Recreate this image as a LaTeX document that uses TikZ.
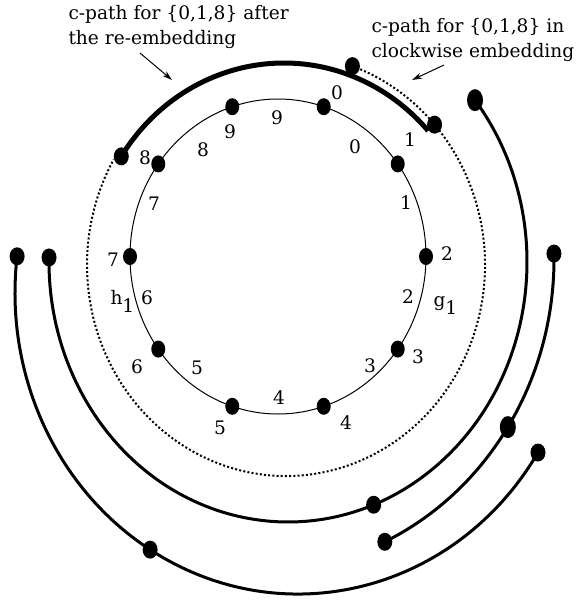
\documentclass[tikz,border=0pt]{standalone}
\usepackage{fontspec}
\setmainfont{DejaVu Serif}
\usetikzlibrary{arrows.meta,shapes.geometric}
\begin{document}
\begin{tikzpicture}[x=1pt,y=-1pt,line width=1pt,
  vtx/.style={ellipse,fill,inner sep=0pt,minimum width=15pt,minimum height=18pt},
  bigvtx/.style={vtx,minimum width=16pt,minimum height=22pt},
  lbl/.style={inner sep=0pt,font=\fontsize{18.6}{24.5}\selectfont},
  cpath/.style={line width=3pt}]
\useasboundingbox (0,0) rectangle (576,603);
\coordinate (ci) at (278,256.5);
\coordinate (ca) at (284,268);
\coordinate (cdot) at (286,265);
\coordinate (cb) at (288,262);
\coordinate (cc) at (261,259);
\coordinate (cd) at (298,293);
\draw (ci) ellipse[x radius=148,y radius=157.5];
\foreach \n in {0,...,9}
  \node[vtx,minimum width=14pt,minimum height=17pt] (v\n) at ([shift={({(\n-2)*36}:148 and 157.5)}]ci) {};
\foreach \k/\x/\y in {0/337/93,1/410/140,2/447/254,3/418/357,4/346/423,5/220/428,6/137/367,7/113/260,8/145/158,9/230/132}
  \node[lbl] (n\k) at (\x,\y) {\k};
\foreach \k/\x/\y in {0/355/147,1/406/203,2/408/297,3/370/366,4/279/398,5/197/368,6/147/298,7/154/204,8/203/150,9/277/118}
  \node[lbl] (e\k) at (\x,\y) {\k};
\node[lbl,anchor=base west] (h) at (110,304) {h\raisebox{-.9ex}{1}};
\node[lbl,anchor=base west] (g) at (433,306) {g\raisebox{-.9ex}{1}};
\path (cdot) ++(-70.5:199 and 211) coordinate (pb);
\path (cdot) ++(-41.7:199 and 211) coordinate (pc);
\draw[line width=2pt,dash pattern=on 2pt off 2.2pt] (pb) arc[start angle=-70.5,end angle=210,x radius=199,y radius=211];
\path (ca) ++(-147:194 and 205) coordinate (pa);
\draw[line width=5pt] (pa) arc[start angle=-147,end angle=-42,x radius=194,y radius=205];
\path (cb) ++(-38.5:239 and 260) coordinate (pd);
\path (cb) ++(69:239 and 260) coordinate (pf);
\draw[cpath] (pd) arc[start angle=-38.5,end angle=181,x radius=239,y radius=260] coordinate (pe);
\path (cc) ++(-1:293 and 312) coordinate (pg);
\path (cc) ++(32.6:293 and 312) coordinate (ph);
\draw[cpath] (pg) arc[start angle=-1,end angle=65,x radius=293,y radius=312] coordinate (pi);
\path (cd) ++(32:283 and 301) coordinate (pj);
\path (cd) ++(121.5:283 and 301) coordinate (pk);
\draw[cpath] (pj) arc[start angle=32,end angle=187,x radius=283,y radius=301] coordinate (pl);
\foreach \p in {pa,pb,pc,pe,pf,pg,pi,pj,pk,pl}
  \node[vtx] (d\p) at (\p) {};
\node[bigvtx] (dpd) at (pd) {};
\node[bigvtx] (dph) at (ph) {};
\node[lbl,align=left,anchor=north west] (after) at (68,4.9) {c-path for \{0,1,8\} after\\the re-embedding};
\node[lbl,align=left,anchor=north west] (clockw) at (371,17.9) {c-path for \{0,1,8\} in\\clockwise embedding};
\coordinate (a1) at (140,53);
\coordinate (a2) at (172,80);
\coordinate (b1) at (444,65);
\coordinate (b2) at (412,80);
\draw[-{Stealth[length=10pt,width=6pt]}] (a1) -- (a2);
\draw[-{Stealth[length=10pt,width=6pt]}] (b1) -- (b2);
\end{tikzpicture}
\end{document}
